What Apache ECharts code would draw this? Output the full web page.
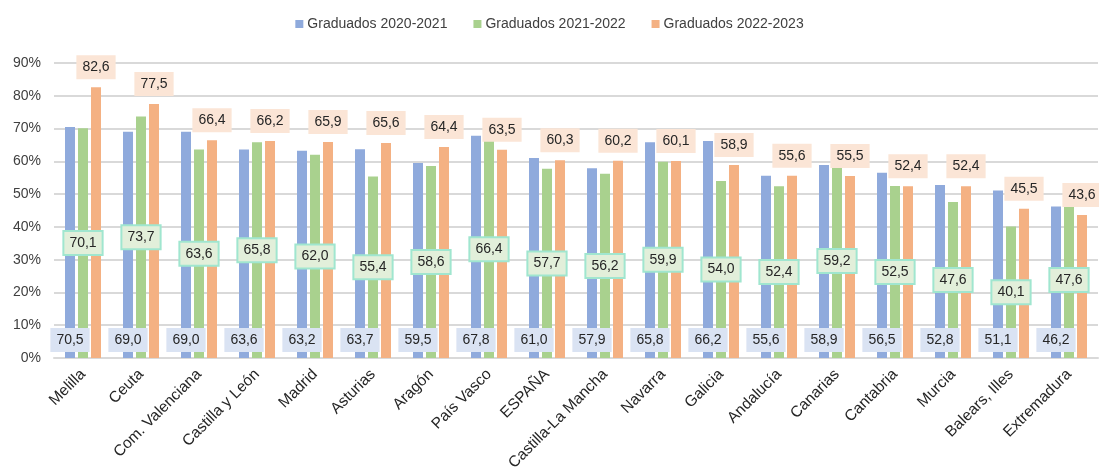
<!DOCTYPE html>
<html><head><meta charset="utf-8">
<script src="https://cdn.jsdelivr.net/npm/echarts@6/dist/echarts.min.js"></script>
<style>html,body{margin:0;padding:0;background:#fff}#c{width:1099px;height:476px}</style>
</head><body><div id="c"></div>
<script>
const categories = ["Melilla","Ceuta","Com. Valenciana","Castilla y León","Madrid","Asturias","Aragón","País Vasco","ESPAÑA","Castilla-La Mancha","Navarra","Galicia","Andalucía","Canarias","Cantabria","Murcia","Balears, Illes","Extremadura"];
const seriesNames = ["Graduados 2020-2021","Graduados 2021-2022","Graduados 2022-2023"];
const g2021 = [70.5,69.0,69.0,63.6,63.2,63.7,59.5,67.8,61.0,57.9,65.8,66.2,55.6,58.9,56.5,52.8,51.1,46.2];
const g2022 = [70.1,73.7,63.6,65.8,62.0,55.4,58.6,66.4,57.7,56.2,59.9,54.0,52.4,59.2,52.5,47.6,40.1,47.6];
const g2023 = [82.6,77.5,66.4,66.2,65.9,65.6,64.4,63.5,60.3,60.2,60.1,58.9,55.6,55.5,52.4,52.4,45.5,43.6];
const yTicks = [0,10,20,30,40,50,60,70,80,90];

const font = "Liberation Sans, Arial, sans-serif";
const fmt = p => p.value.toFixed(1).replace('.', ',');
const chart = echarts.init(document.getElementById('c'), null, {renderer:'canvas'});
chart.setOption({
  animation:false,
  textStyle:{fontFamily:font},
  legend:{top:12,left:'center',itemWidth:8,itemHeight:8,itemGap:26,icon:'rect',
    textStyle:{fontSize:14,color:'#404040',fontFamily:font,padding:[0,0,0,-1]},data:seriesNames},
  grid:{left:54,right:1,top:63,bottom:118,containLabel:false},
  xAxis:{type:'category',data:categories,
    axisLine:{lineStyle:{color:'#d9d9d9',width:2}},axisTick:{show:false},
    axisLabel:{rotate:45,fontSize:15.5,color:'#262626',fontFamily:font,margin:14,interval:0}},
  yAxis:{type:'value',min:yTicks[0],max:yTicks[yTicks.length-1],interval:10,
    axisLabel:{formatter:v=>v+'%',fontSize:14,color:'#404040',fontFamily:font,margin:13},
    splitLine:{lineStyle:{color:'#d9d9d9',width:2}},axisLine:{show:false},axisTick:{show:false}},
  series:[
    {name:seriesNames[0],type:'bar',data:g2021,barWidth:10,barGap:'30%',
     itemStyle:{color:'#8faadc'},
     label:{show:true,position:'insideBottom',distance:6,formatter:fmt,fontSize:14,color:'#262626',
       backgroundColor:'#dae3f3',padding:[5,6,5,6],fontFamily:font}},
    {name:seriesNames[1],type:'bar',data:g2022,barWidth:10,barGap:'30%',
     itemStyle:{color:'#a9d18e'},
     label:{show:true,position:'inside',formatter:fmt,fontSize:14,color:'#262626',
       backgroundColor:'#e2efda',borderColor:'#a0e6cf',borderWidth:2,padding:[4,5,4,5],fontFamily:font}},
    {name:seriesNames[2],type:'bar',data:g2023,barWidth:10,barGap:'30%',
     itemStyle:{color:'#f4b183'},
     label:{show:true,position:'top',distance:8,formatter:fmt,fontSize:14,color:'#262626',
       backgroundColor:'#fbe5d6',padding:[5,6,5,6],fontFamily:font}}
  ]
});
</script></body></html>
